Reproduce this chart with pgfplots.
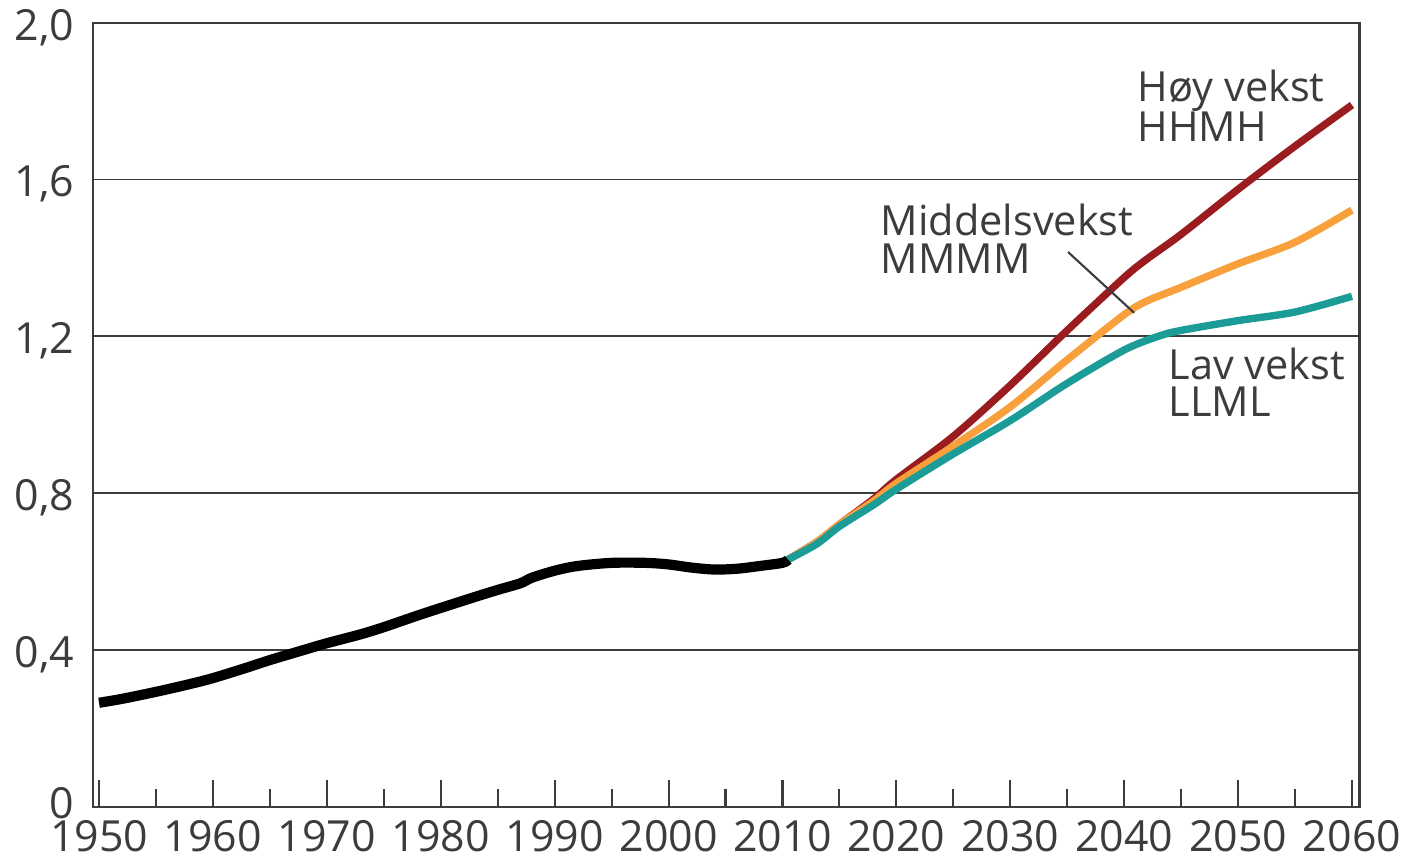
\documentclass[border=0pt]{standalone}
\usepackage{pgfplots}
\pgfplotsset{compat=1.18}
\usepackage{fontspec}
\setmainfont{Open Sans}
\definecolor{hred}{HTML}{9B1C1F}
\definecolor{morange}{HTML}{F7A03C}
\definecolor{lteal}{HTML}{1B9C97}
\definecolor{axgray}{HTML}{3C3C3C}
\definecolor{hist}{HTML}{231F20}
\begin{document}
\begin{tikzpicture}
\useasboundingbox (-0.93,-0.513) rectangle (13.21,8.067);
\begin{axis}[
  at={(0,0)}, anchor=south west,
  scale only axis, width=12.665cm, height=7.84cm,
  xmin=1949.47, xmax=2060.66, ymin=0, ymax=2,
  axis line style={axgray, line width=0.6pt},
  xtick={1950,1960,1970,1980,1990,2000,2010,2020,2030,2040,2050,2060},
  xticklabels={1950,1960,1970,1980,1990,2000,2010,2020,2030,2040,2050,2060},
  minor xtick={1955,1965,1975,1985,1995,2005,2015,2025,2035,2045,2055},
  xtick pos=left,
  tick align=inside,
  major tick length=0.27cm, minor tick length=0.18cm,
  every tick/.style={axgray, line width=0.6pt},
  ytick={0,0.4,0.8,1.2,1.6,2.0},
  yticklabels={\raisebox{1.6pt}{0},{0,4},{0,8},{1,2},{1,6},{2,0}},
  ytick style={draw=none},
  ymajorgrids,
  major grid style={axgray, line width=0.45pt},
  xticklabel style={font=\fontsize{12.2}{14}\selectfont, text=axgray, anchor=base, inner sep=0pt, yshift=-0.45cm},
  yticklabel style={font=\fontsize{12.2}{14}\selectfont, text=axgray, anchor=base east, inner sep=0pt, xshift=-0.18cm, yshift=-0.175cm},
]
\addplot[hred, line width=2.1pt, smooth] coordinates {
(2010.4,0.629) (2013,0.675) (2015,0.72) (2018,0.785) (2020,0.835) (2025,0.945)
(2030,1.075) (2035,1.215) (2040,1.35) (2042,1.397) (2045,1.46) (2050,1.575)
(2055,1.685) (2060,1.79)};
\addplot[morange, line width=2.1pt, smooth] coordinates {
(2010.4,0.629) (2013,0.675) (2015,0.72) (2018,0.78) (2020,0.825) (2025,0.92)
(2030,1.02) (2035,1.14) (2040,1.255) (2042,1.29) (2045,1.325) (2050,1.385)
(2055,1.44) (2060,1.522)};
\addplot[lteal, line width=2.1pt, smooth] coordinates {
(2010.4,0.629) (2013,0.67) (2015,0.715) (2018,0.77) (2020,0.81) (2025,0.90)
(2030,0.985) (2035,1.08) (2040,1.165) (2043,1.20) (2045,1.215) (2050,1.24)
(2055,1.262) (2060,1.302)};
\addplot[hist, line width=2.9pt, smooth] coordinates {
(1950,0.265) (1952,0.275) (1955,0.293) (1958,0.313) (1960,0.328) (1963,0.355)
(1965,0.374) (1968,0.400) (1970,0.417) (1973,0.440) (1975,0.458) (1978,0.488)
(1980,0.507) (1983,0.535) (1985,0.553) (1987,0.570) (1988,0.584) (1990,0.602)
(1992,0.614) (1995,0.622) (1998,0.622) (2000,0.618) (2002,0.610) (2004,0.605)
(2006,0.607) (2008,0.614) (2010,0.622) (2010.5,0.630)};
\draw[axgray, line width=0.6pt] (axis cs:2035.07,1.415) -- (axis cs:2040.87,1.26);
\tikzset{lab/.style={anchor=base west, inner sep=0pt, text=axgray, font=\fontsize{11.8}{14}\selectfont}}
\node[lab] at (axis cs:2041.13,1.800) {Høy vekst};
\node[lab] at (axis cs:2041.13,1.697) {HHMH};
\node[lab] at (axis cs:2018.57,1.458) {Middelsvekst};
\node[lab] at (axis cs:2018.57,1.361) {MMMM};
\node[lab] at (axis cs:2043.86,1.091) {Lav vekst};
\node[lab] at (axis cs:2043.86,0.995) {LLML};
\end{axis}
\end{tikzpicture}
\end{document}
